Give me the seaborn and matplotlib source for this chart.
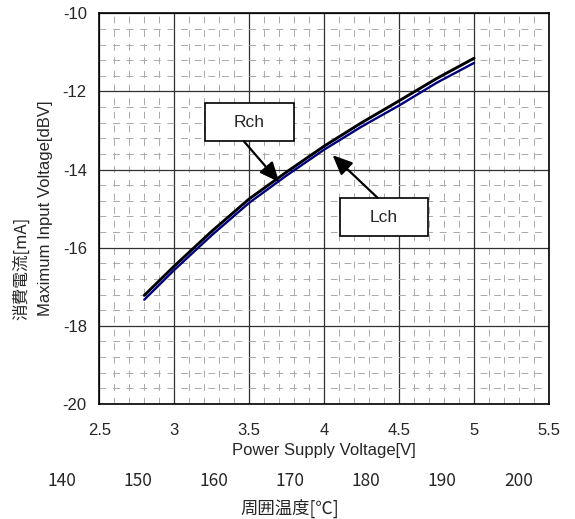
import matplotlib
matplotlib.use("Agg")
import matplotlib.pyplot as plt
from matplotlib.patches import Rectangle
from matplotlib.ticker import MultipleLocator
import seaborn as sns
import pandas as pd

# ---- data ----
voltage = [2.8, 3.0, 3.25, 3.5, 3.75, 4.0, 4.25, 4.5, 4.75, 5.0]
rch = [-17.22, -16.47, -15.58, -14.75, -14.06, -13.40, -12.80, -12.24, -11.67, -11.15]
lch = [-17.33, -16.57, -15.68, -14.85, -14.15, -13.49, -12.90, -12.36, -11.78, -11.27]
x_ticks = [2.5, 3, 3.5, 4, 4.5, 5, 5.5]
x_ticklabels = ["2.5", "3", "3.5", "4", "4.5", "5", "5.5"]
y_ticks = [-20, -18, -16, -14, -12, -10]
temp_ticks = [140, 150, 160, 170, 180, 190, 200]

df = pd.DataFrame({
    "V": voltage * 2,
    "dBV": rch + lch,
    "ch": ["Rch"] * len(voltage) + ["Lch"] * len(voltage),
})

sns.set_style("white")
plt.rcParams["font.family"] = ["Liberation Sans", "Noto Sans CJK JP", "DejaVu Sans"]
plt.rcParams["axes.unicode_minus"] = False

W, H = 575, 519
fig = plt.figure(figsize=(W / 100, H / 100), dpi=100)
L, R, T, B = 99.3, 549.0, 13.3, 404.0
ax = fig.add_axes([L / W, 1 - B / H, (R - L) / W, (B - T) / H])

ax.set_xlim(2.5, 5.5)
ax.set_ylim(-20, -10)
ax.set_xticks(x_ticks)
ax.set_xticklabels(x_ticklabels)
ax.set_yticks(y_ticks)
ax.xaxis.set_minor_locator(MultipleLocator(0.1))
ax.yaxis.set_minor_locator(MultipleLocator(0.4))
ax.grid(which="minor", color="#aaaaaa", linewidth=0.7, linestyle=(0, (7, 7)), zorder=0)
ax.grid(which="major", color="#303030", linewidth=0.9, linestyle="-", zorder=0.5)
ax.set_axisbelow(True)
ax.tick_params(which="both", length=0)
ax.tick_params(axis="x", pad=14, labelsize=12)
ax.tick_params(axis="y", pad=9, labelsize=12)
for s in ax.spines.values():
    s.set_color("black")
    s.set_linewidth(1.2)

sns.lineplot(data=df[df.ch == "Rch"], x="V", y="dBV", color="black", linewidth=2.1, ax=ax, zorder=3)
sns.lineplot(data=df[df.ch == "Lch"], x="V", y="dBV", color="#000080", linewidth=1.7, ax=ax, zorder=4)

ax.set_xlabel("Power Supply Voltage[V]", fontsize=12, labelpad=3)
ax.set_ylabel("")

# annotation boxes
def label_box(x0, x1, y0, y1, text, start, tip):
    ax.add_patch(Rectangle((x0, y0), x1 - x0, y1 - y0, facecolor="white",
                           edgecolor="black", linewidth=1.2, zorder=5))
    ax.text((x0 + x1) / 2, (y0 + y1) / 2, text, ha="center", va="center",
            fontsize=12.5, zorder=6)
    ax.annotate("", xy=tip, xytext=start, zorder=6,
                arrowprops=dict(arrowstyle="-|>,head_length=0.8,head_width=0.35",
                                mutation_scale=15, color="black", lw=1.6,
                                shrinkA=0, shrinkB=0))

label_box(3.203, 3.797, -13.274, -12.308, "Rch", (3.464, -13.274), (3.70, -14.32))
label_box(4.105, 4.692, -15.71, -14.718, "Lch", (4.355, -14.718), (4.056, -13.63))

# y labels
fig.text(46 / W, 1 - 208.7 / H, "Maximum Input Voltage[dBV]", rotation=90,
         ha="center", va="center", fontsize=12)
fig.text(22 / W, 1 - 268 / H, "消費電流[mA]", rotation=90, ha="center", va="center",
         fontsize=12, family=["Noto Sans CJK JP", "DejaVu Sans"])

# secondary temperature scale
tl, tr = 62.0, 518.3
ax2 = fig.add_axes([tl / W, 1 - 472 / H, (tr - tl) / W, 0.0005])
ax2.set_xlim(140, 200)
ax2.set_xticks(temp_ticks)
ax2.set_xticklabels([str(t) for t in temp_ticks],
                    family=["Noto Sans CJK JP", "DejaVu Sans"], fontsize=12.5)
ax2.set_yticks([])
ax2.tick_params(length=0, pad=0)
for s in ax2.spines.values():
    s.set_visible(False)
ax2.patch.set_alpha(0)
fig.text(290 / W, 1 - 508 / H, "周囲温度[℃]", ha="center", va="center",
         fontsize=12.5, family=["Noto Sans CJK JP", "DejaVu Sans"])

fig.savefig("out.png", dpi=100)
